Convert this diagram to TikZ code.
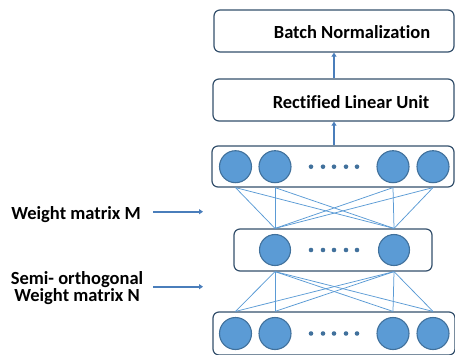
\documentclass[tikz,border=0pt]{standalone}
\usepackage{fontspec}
\setmainfont[Ligatures=NoCommon]{Carlito}
\usetikzlibrary{arrows.meta}
\definecolor{nodefill}{HTML}{5B9BD5}
\definecolor{nodeedge}{HTML}{41719C}
\definecolor{boxedge}{HTML}{34506C}
\definecolor{flowblue}{HTML}{4A7EBB}
\definecolor{wireblue}{HTML}{5B9BD5}

\begin{document}
\begin{tikzpicture}[x=1pt,y=-1pt,
  layerbox/.style={draw=boxedge, line width=1.2pt, rounded corners=6pt, fill=white, inner sep=0pt},
  neuron/.style={circle, draw=nodeedge, line width=1.1pt, fill=nodefill, minimum size=32pt, inner sep=0pt},
  dotmark/.style={circle, fill=nodeedge, minimum size=4.6pt, inner sep=0pt},
  wire/.style={draw=wireblue, line width=0.75pt},
  flow/.style={draw=flowblue, line width=2pt, -{Triangle[length=4pt,width=5pt]}},
  lbl/.style={font=\fontsize{18.5}{17}\selectfont\bfseries, inner sep=0pt},
]
\clip (0,0) rectangle (455,354);

% processing blocks
\node[layerbox, minimum width=240pt, minimum height=42pt] (bn) at (334,31) {};
\node[lbl] (bntext) at (352,32) {Batch Normalization};
\node[layerbox, minimum width=241pt, minimum height=42pt] (relu) at (333.5,100) {};
\node[lbl] (relutext) at (351,102) {Rectified Linear Unit};

% layers of neurons
\node[layerbox, minimum width=242pt, minimum height=41pt] (top) at (333,166.5) {};
\node[layerbox, minimum width=198pt, minimum height=42pt] (mid) at (333,250) {};
\node[layerbox, minimum width=242pt, minimum height=43pt] (bot) at (334,333.5) {};

\foreach \i/\x in {1/235.5,2/275,3/393,4/433}{
  \node[neuron] (t\i) at (\x,166.7) {};
  \node[neuron] (b\i) at (\x,333.5) {};
}
\node[neuron, minimum size=31pt] (m1) at (275,250) {};
\node[neuron, minimum size=31pt] (m2) at (394,250) {};

\foreach \x [count=\k] in {311,323,334,346,357}{
  \node[dotmark] (td\k) at (\x,166.7) {};
  \node[dotmark] (md\k) at (\x,250) {};
  \node[dotmark] (bd\k) at (\x,333.5) {};
}

% weight connections
\foreach \i in {1,2,3,4}{
  \foreach \j in {1,2}{
    \draw[wire] (t\i.south |- top.south) -- (m\j.north |- mid.north);
    \draw[wire] (m\j.south |- mid.south) -- (b\i.north |- bot.north);
  }
}

% data flow
\draw[flow] (top.north -| bn.south) -- (relu.south -| bn.south);
\draw[flow] (relu.north -| bn.south) -- (bn.south);

% side labels
\node[lbl] (wm) at (76,215) {Weight matrix M};
\node[lbl, align=center] (wn) at (77,288) {Semi- orthogonal\\Weight matrix N};
\coordinate (wmtip) at (203,211.7);
\coordinate (wntip) at (203,286.7);
\draw[flow] (153,211.7) -- (wmtip);
\draw[flow] (153,286.7) -- (wntip);
\end{tikzpicture}
\end{document}
